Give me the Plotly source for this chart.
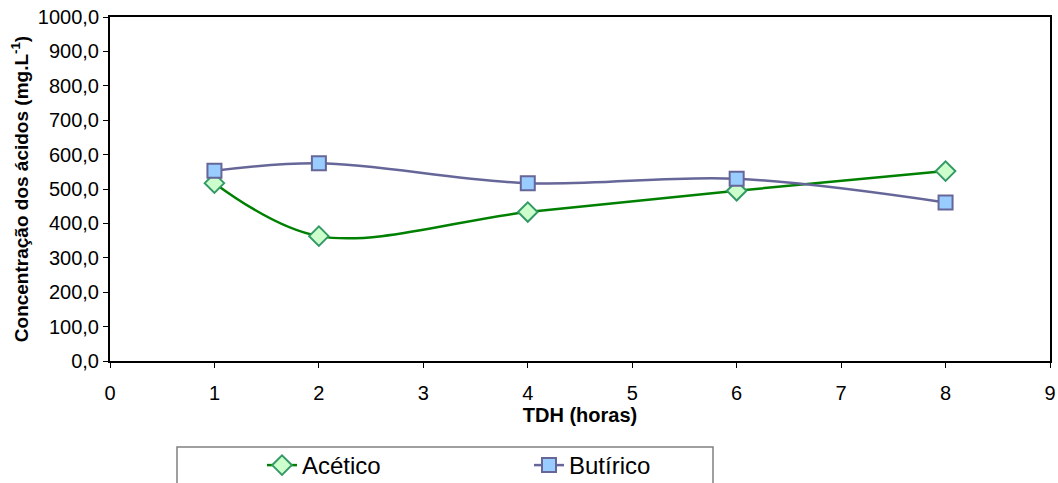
import plotly.graph_objects as go

tdh = [1, 2, 4, 6, 8]
acetico = [517, 363, 433, 495, 552]
butirico = [553, 575, 517, 530, 461]
x_ticks = [0, 1, 2, 3, 4, 5, 6, 7, 8, 9]
y_ticks = [0, 100, 200, 300, 400, 500, 600, 700, 800, 900, 1000]

W, H = 1058, 483
L, R, T, B = 110, 8, 17, 122
pw = W - L - R
ph = H - T - B
FONT = "Liberation Sans, Arial"

fig = go.Figure()
fig.add_trace(go.Scatter(
    x=tdh, y=acetico, name="Acético", mode="lines+markers",
    line=dict(color="#008000", width=2.5, shape="spline", smoothing=1),
    marker=dict(symbol="diamond", size=15, color="#CCFFCC",
                line=dict(color="#339966", width=2)),
))
fig.add_trace(go.Scatter(
    x=tdh, y=butirico, name="Butírico", mode="lines+markers",
    line=dict(color="#666699", width=2.5, shape="spline", smoothing=1),
    marker=dict(symbol="square", size=14, color="#99CCFF",
                line=dict(color="#666699", width=2)),
))

# legend frame
fx0 = (177 - L) / pw
fx1 = (713 - L) / pw
fy1 = (T + ph - 447) / ph
fy0 = (T + ph - 490) / ph
fig.add_shape(type="rect", xref="paper", yref="paper", x0=fx0, x1=fx1, y0=fy0, y1=fy1,
              line=dict(color="#808080", width=1.5), fillcolor="white", layer="below")

axis_common = dict(
    showline=True, linecolor="black", linewidth=2, mirror=True,
    ticks="outside", ticklen=5, tickcolor="black", tickwidth=1,
    showgrid=False, zeroline=False,
    tickfont=dict(family=FONT, size=20, color="black"),
)

fig.update_layout(
    width=W, height=H,
    margin=dict(l=L, r=R, t=T, b=B, autoexpand=False),
    paper_bgcolor="white", plot_bgcolor="white",
    separators=",.",
    showlegend=True,
    legend=dict(
        orientation="h", x=(262 - L) / pw, y=(T + ph - 443) / ph,
        xanchor="left", yanchor="top",
        font=dict(family=FONT, size=24, color="black"),
        bgcolor="rgba(0,0,0,0)", borderwidth=0,
        entrywidth=222, entrywidthmode="pixels",
    ),
    xaxis=dict(
        range=[0, 9], tickvals=x_ticks, ticklabelstandoff=8,
        title=dict(text="<b>TDH (horas)</b>", standoff=2,
                   font=dict(family=FONT, size=20, color="black")),
        **axis_common,
    ),
    yaxis=dict(
        range=[0, 1000], tickvals=y_ticks, tickformat=".1f",
        title=dict(text="<b>Concentração dos ácidos (mg.L<sup>-1</sup>)</b>", standoff=4,
                   font=dict(family=FONT, size=19, color="black")),
        **axis_common,
    ),
)

fig.write_html("out.html")
